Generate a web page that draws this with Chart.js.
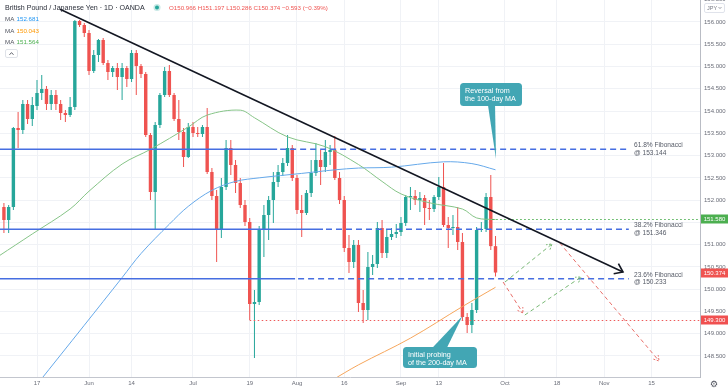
<!DOCTYPE html>
<html>
<head>
<meta charset="utf-8">
<script src="https://cdn.jsdelivr.net/npm/chart.js@4.4.1/dist/chart.umd.min.js"></script>
<style>
html,body{margin:0;padding:0;background:#ffffff;overflow:hidden;}
#wrap{position:relative;width:728px;height:391px;}
canvas{display:block;}
</style>
</head>
<body>
<div id="wrap"><canvas id="chart" width="728" height="391"></canvas></div>
<script>
// ================= DATA =================
// trading-day index of the first candle (0 = 17 May 2021)
const FIRST_DAY = -7;

const opens = [151.845,151.554,151.845,153.620,153.575,154.159,153.822,154.114,154.406,154.495,154.159,154.361,154.159,153.956,153.911,154.091,156.022,155.933,155.753,154.900,155.259,155.596,155.079,154.877,154.967,154.765,154.967,154.720,155.304,155.012,154.832,153.462,152.182,153.687,154.361,154.900,154.361,153.822,153.530,152.968,153.642,153.507,153.485,153.642,152.631,152.092,151.329,152.295,153.170,152.789,152.384,151.890,151.509,149.667,149.712,151.329,151.666,152.003,152.407,152.631,152.834,153.170,152.497,151.778,151.711,152.160,152.609,152.901,152.744,153.081,153.125,152.497,152.003,150.925,150.610,150.992,149.690,149.532,150.498,150.565,151.374,150.812,151.172,151.239,151.284,151.486,152.070,152.092,152.003,152.048,151.823,151.801,152.070,152.295,151.441,151.374,151.396,151.059,149.375,149.196,149.532,151.329,151.351,152.070,150.966];
const highs = [151.935,151.890,153.642,153.979,154.248,154.248,154.316,154.697,154.810,154.563,154.473,154.473,154.248,154.024,154.316,156.045,156.045,155.978,155.820,155.371,155.618,155.641,155.147,155.012,155.079,155.079,155.012,155.371,155.371,155.057,154.877,153.507,153.754,154.406,154.989,155.034,154.406,154.248,153.620,153.732,153.754,153.642,153.687,154.069,152.721,152.227,152.497,153.350,153.350,152.901,152.497,152.003,151.598,149.981,151.419,151.890,152.092,152.631,152.789,152.946,153.462,153.238,152.564,152.115,152.227,152.901,153.283,153.125,153.350,153.238,153.440,152.631,152.092,151.217,151.104,151.104,149.981,150.835,150.767,151.509,151.554,151.329,151.374,151.464,151.621,152.115,152.295,152.227,152.182,152.115,152.003,152.115,152.519,152.834,151.621,151.666,151.845,151.262,149.465,149.690,151.396,151.509,152.160,152.564,151.197];
const lows = [151.262,151.262,151.778,153.170,153.485,153.709,153.664,154.024,154.248,154.024,154.024,154.024,153.799,153.754,153.867,154.024,155.888,155.663,154.810,154.855,155.102,155.034,154.697,154.765,154.473,154.248,154.540,154.653,154.361,154.742,153.417,152.003,151.329,153.620,154.316,154.316,153.777,153.350,152.744,152.946,153.417,153.417,153.417,152.587,152.003,150.610,151.149,152.227,152.564,152.160,151.823,151.419,149.308,148.454,149.645,150.723,151.104,151.486,152.295,152.542,152.766,152.429,151.688,151.172,151.666,152.070,152.542,152.340,152.631,152.789,152.452,151.913,150.835,150.363,150.476,149.487,149.240,149.308,150.318,150.476,150.700,150.700,151.104,151.149,151.194,151.419,151.778,151.890,151.733,151.441,151.554,151.733,152.003,151.396,150.925,151.217,150.880,149.308,149.016,149.016,149.465,151.284,151.284,150.880,150.286];
const closes = [151.554,151.845,153.620,153.575,154.159,153.822,154.136,154.406,154.495,154.159,154.361,154.159,153.956,153.911,154.091,156.022,155.933,155.753,154.900,155.259,155.596,155.079,154.877,154.967,154.765,154.967,154.720,155.304,155.012,154.832,153.462,152.182,153.687,154.361,154.900,154.361,153.822,153.530,152.968,153.642,153.507,153.485,153.642,152.631,152.092,151.329,152.295,153.170,152.789,152.384,151.890,151.509,149.667,149.712,151.329,151.666,152.003,152.407,152.631,152.834,153.170,152.497,151.778,151.711,152.160,152.609,152.901,152.744,153.081,153.125,152.497,152.003,150.925,150.610,150.992,149.690,149.532,150.498,150.565,151.374,150.812,151.172,151.239,151.284,151.486,152.070,152.092,152.003,152.048,151.823,151.801,152.070,152.295,151.441,151.374,151.396,151.059,149.375,149.196,149.532,151.329,151.351,152.070,150.967,150.374];

// moving averages (trading-day index, value)
const ma100Days   = [0, 10, 18, 22, 28, 32, 37, 42, 47, 56, 63, 68, 75, 86, 92, 97];
const ma100Values = [147.86,149.19,150.26,150.80,151.46,151.86,152.22,152.42,152.50,152.60,152.68,152.72,152.74,152.86,152.82,152.681];
const ma200Days   = [62, 68, 79, 90, 97];
const ma200Values = [147.93,148.30,148.90,149.61,150.043];
const ma50Days    = [-8, -1, 7, 11, 18, 24, 32, 36, 43, 46, 53, 61, 68, 73, 77, 83, 90, 93, 97];
const ma50Values  = [150.75,151.24,151.80,152.20,152.81,153.14,153.64,153.91,154.02,153.85,153.42,153.20,152.80,152.42,152.14,151.94,151.80,151.60,151.564];

// axis ticks
const xTickDays   = [0, 11, 20, 33, 45, 55, 65, 77, 85, 99, 110, 120, 130];
const xTickLabels = ['17','Jun','14','Jul','19','Aug','16','Sep','13','Oct','18','Nov','15'];
const yTickValues = [148.5,149,149.5,150,150.5,151,151.5,152,152.5,153,153.5,154,154.5,155,155.5,156,156.5];

// drawings (data units: trading-day index, price)
const trendLine = { from: [4.87, 156.285], to: [123.97, 150.386] };
const fibLevels = [153.144, 151.346, 150.233];
const fibNames  = ['61.8% Fibonacci', '38.2% Fibonacci', '23.6% Fibonacci'];
const fibSolidTo = [50.8, 60.5, 54.6];
const FIB_END = 125.2, FIB_LABEL_AT = 126.3;
const supportLevel = 149.300, supportFrom = 45;
const pivotLevel = 151.580, pivotFrom = 96.3;
const projections = [
  { kind: 'down', from: [98.6, 150.161], to: [102.8, 149.465] },
  { kind: 'up',   from: [99.0, 150.161], to: [108.95, 151.015] },
  { kind: 'up',   from: [103.2, 149.420], to: [115.1, 150.274] },
  { kind: 'down', from: [110.6, 151.037], to: [131.6, 148.387] }
];
const callouts = [
  { lines: ['Reversal from', 'the 100-day MA'], box: [89.5, 154.630, 102.6, 154.114], base: [95.4, 96.9], tip: [97.1, 152.923], below: true },
  { lines: ['Initial probing', 'of the 200-day MA'], box: [77.43, 148.701, 93.08, 148.230], base: [83.6, 86.7], tip: [90.0, 149.398], below: false }
];

const X_MIN = -7.83, X_MAX = 140.26;
const Y_MIN = 148.028, Y_MAX = 156.494;

// ================= STYLE =================
const FONT = '"Liberation Sans", Arial, sans-serif';
const UP = '#26a69a', DOWN = '#ef5350';
const TEAL = '#42a6b4';
const FIB_BLUE = 'rgb(70,110,225)';

const days = opens.map((_, k) => FIRST_DAY + k);
const candleColors = closes.map((c, k) => c >= opens[k] ? UP : DOWN);
const wickData = days.map((d, k) => ({ x: d, y: [lows[k], highs[k]] }));
const bodyData = days.map((d, k) => ({ x: d, y: [Math.min(opens[k], closes[k]), Math.max(opens[k], closes[k])] }));
const toPts = (xs, ys) => xs.map((x, k) => ({ x, y: ys[k] }));
const hiddenTick = v => Math.abs(v - pivotLevel) < 0.1;

function arrowHead(ctx, x0, y0, x1, y1, len, ang) {
  const a = Math.atan2(y1 - y0, x1 - x0);
  ctx.beginPath();
  ctx.moveTo(x1 - len * Math.cos(a - ang), y1 - len * Math.sin(a - ang));
  ctx.lineTo(x1, y1);
  ctx.lineTo(x1 - len * Math.cos(a + ang), y1 - len * Math.sin(a + ang));
  ctx.stroke();
}
function fitFont(ctx, text, width, family) {
  ctx.font = '10px ' + family;
  const w = ctx.measureText(text).width;
  return 10 * width / w;
}
function rrect(ctx, x, y, w, h, r) {
  ctx.beginPath();
  ctx.moveTo(x + r, y);
  ctx.lineTo(x + w - r, y); ctx.arcTo(x + w, y, x + w, y + r, r);
  ctx.lineTo(x + w, y + h - r); ctx.arcTo(x + w, y + h, x + w - r, y + h, r);
  ctx.lineTo(x + r, y + h); ctx.arcTo(x, y + h, x, y + h - r, r);
  ctx.lineTo(x, y + r); ctx.arcTo(x, y, x + r, y, r);
  ctx.closePath();
}

const drawingsPlugin = {
  id: 'drawings',
  afterDatasetsDraw(chart) {
    const { ctx, chartArea: a, scales: { x, y } } = chart;
    const X = v => x.getPixelForValue(v), Y = v => y.getPixelForValue(v);
    ctx.save();
    ctx.beginPath(); ctx.rect(a.left, a.top, a.right - a.left, a.bottom - a.top); ctx.clip();

    // Fibonacci levels
    fibLevels.forEach((lv, k) => {
      const yy = Y(lv);
      ctx.strokeStyle = FIB_BLUE; ctx.lineWidth = 1.5;
      ctx.setLineDash([]);
      ctx.beginPath(); ctx.moveTo(a.left, yy); ctx.lineTo(X(fibSolidTo[k]), yy); ctx.stroke();
      ctx.setLineDash([6, 4]);
      ctx.beginPath(); ctx.moveTo(X(fibSolidTo[k]) + 3, yy); ctx.lineTo(X(FIB_END), yy); ctx.stroke();
      ctx.setLineDash([]);
      ctx.fillStyle = '#555a66';
      ctx.font = '6.6px ' + FONT;
      ctx.textBaseline = 'middle'; ctx.textAlign = 'left';
      ctx.fillText(fibNames[k], X(FIB_LABEL_AT), yy - 4);
      ctx.fillText('@ ' + lv.toFixed(3), X(FIB_LABEL_AT), yy + 3.5);
    });

    // dotted support / pivot lines
    ctx.lineWidth = 1.2;
    ctx.setLineDash([1.5, 2.5]);
    ctx.strokeStyle = '#ee5a5a';
    let yy = Math.round(Y(supportLevel)) + 0.5;
    ctx.beginPath(); ctx.moveTo(X(supportFrom), yy); ctx.lineTo(a.right, yy); ctx.stroke();
    ctx.strokeStyle = '#4caf50';
    yy = Math.round(Y(pivotLevel)) + 0.5;
    ctx.beginPath(); ctx.moveTo(X(pivotFrom), yy); ctx.lineTo(a.right, yy); ctx.stroke();
    ctx.setLineDash([]);

    // projections
    projections.forEach(p => {
      const x0 = X(p.from[0]), y0 = Y(p.from[1]), x1 = X(p.to[0]), y1 = Y(p.to[1]);
      ctx.strokeStyle = p.kind === 'up' ? '#78b874' : '#e8706b';
      ctx.lineWidth = 1;
      ctx.setLineDash([4, 3]);
      ctx.beginPath(); ctx.moveTo(x0, y0); ctx.lineTo(x1, y1); ctx.stroke();
      ctx.setLineDash([2, 1.5]);
      arrowHead(ctx, x0, y0, x1, y1, 6, 0.55);
      ctx.setLineDash([]);
    });

    // trend line
    {
      const x0 = X(trendLine.from[0]), y0 = Y(trendLine.from[1]);
      const x1 = X(trendLine.to[0]), y1 = Y(trendLine.to[1]);
      ctx.strokeStyle = '#131722'; ctx.lineWidth = 1.6;
      ctx.beginPath(); ctx.moveTo(x0, y0); ctx.lineTo(x1, y1); ctx.stroke();
      arrowHead(ctx, x0, y0, x1, y1, 9.5, 0.63);
    }

    // callouts
    callouts.forEach(c => {
      const x1 = X(c.box[0]), y1 = Y(c.box[1]), x2 = X(c.box[2]), y2 = Y(c.box[3]);
      const by = c.below ? y2 - 1 : y1 + 1;
      ctx.fillStyle = TEAL;
      rrect(ctx, x1, y1, x2 - x1, y2 - y1, 3.5); ctx.fill();
      ctx.beginPath();
      ctx.moveTo(X(c.base[0]), by); ctx.lineTo(X(c.tip[0]), Y(c.tip[1])); ctx.lineTo(X(c.base[1]), by);
      ctx.closePath(); ctx.fill();
      ctx.fillStyle = '#ffffff';
      ctx.font = '7.2px ' + FONT;
      ctx.textBaseline = 'middle'; ctx.textAlign = 'left';
      c.lines.forEach((t, j) => ctx.fillText(t, x1 + 5, y1 + 7.8 + j * 7.8));
    });
    ctx.restore();
  },
  afterDraw(chart) {
    const { ctx, chartArea: a, scales: { y } } = chart;
    const Y = v => y.getPixelForValue(v);
    ctx.save();
    ctx.textBaseline = 'middle'; ctx.textAlign = 'left';

    // header
    const title = 'British Pound / Japanese Yen · 1D · OANDA';
    ctx.fillStyle = '#2a2e39';
    ctx.font = fitFont(ctx, title, 140, FONT) + 'px ' + FONT;
    ctx.fillText(title, 5, 8);
    ctx.fillStyle = 'rgba(38,166,154,0.25)';
    ctx.beginPath(); ctx.arc(157, 7.5, 3.5, 0, Math.PI * 2); ctx.fill();
    ctx.fillStyle = UP;
    ctx.beginPath(); ctx.arc(157, 7.5, 2, 0, Math.PI * 2); ctx.fill();
    const n = closes.length - 1;
    const chg = closes[n] - closes[n - 1];
    const pct = chg / closes[n - 1] * 100;
    const minus = v => (v < 0 ? '\u2212' : '+') + Math.abs(v).toFixed(3);
    const ohlc = 'O' + opens[n].toFixed(3) + ' H' + highs[n].toFixed(3) + ' L' + lows[n].toFixed(3) +
                 ' C' + closes[n].toFixed(3) + ' ' + minus(chg) + ' (' + (pct < 0 ? '\u2212' : '+') + Math.abs(pct).toFixed(2) + '%)';
    ctx.fillStyle = '#ef5350';
    ctx.font = fitFont(ctx, ohlc, 159, FONT) + 'px ' + FONT;
    ctx.fillText(ohlc, 169, 8);

    // MA legend
    const legend = [[ma100Values, '#2196f3'], [ma200Values, '#ff9800'], [ma50Values, '#4caf50']];
    ctx.font = '6.2px ' + FONT;
    legend.forEach((l, k) => {
      const ly = 19.5 + k * 11.3;
      ctx.fillStyle = '#50535e';
      ctx.fillText('MA', 5, ly);
      ctx.fillStyle = l[1];
      ctx.fillText(l[0][l[0].length - 1].toFixed(3), 16.5, ly);
    });
    ctx.strokeStyle = '#dfe2e8'; ctx.lineWidth = 1;
    rrect(ctx, 5.5, 49.5, 12, 8, 1.5); ctx.fillStyle = '#ffffff'; ctx.fill(); ctx.stroke();
    ctx.strokeStyle = '#50535e'; ctx.lineWidth = 0.9;
    ctx.beginPath(); ctx.moveTo(9.5, 54.8); ctx.lineTo(11.5, 52.6); ctx.lineTo(13.5, 54.8); ctx.stroke();

    // right axis price labels
    const boxes = [[pivotLevel, '#4caf50'], [closes[n], '#ef5350'], [supportLevel, '#f05050']];
    boxes.forEach(b => {
      const by = Y(b[0]);
      ctx.fillStyle = b[1];
      ctx.fillRect(a.right + 1, Math.round(by) - 4.5, 27, 9);
      ctx.fillStyle = '#ffffff';
      ctx.font = '6px ' + FONT;
      ctx.textAlign = 'center';
      ctx.fillText(b[0].toFixed(3), a.right + 14.5, Math.round(by));
    });

    // currency selector
    ctx.textAlign = 'left';
    ctx.strokeStyle = '#e0e3eb'; ctx.lineWidth = 1;
    rrect(ctx, 704.5, 3.5, 20, 9, 1.5); ctx.fillStyle = '#ffffff'; ctx.fill(); ctx.stroke();
    ctx.fillStyle = '#787b86'; ctx.font = '5.5px ' + FONT;
    ctx.fillText('JPY', 707, 8.2);
    ctx.strokeStyle = '#787b86'; ctx.lineWidth = 0.7;
    ctx.beginPath(); ctx.moveTo(718.5, 7); ctx.lineTo(720, 8.6); ctx.lineTo(721.5, 7); ctx.stroke();

    // settings gear
    ctx.fillStyle = '#50535e';
    ctx.font = '9px "DejaVu Sans", sans-serif';
    ctx.textAlign = 'center';
    ctx.fillText('\u2699', 714, 384.5);
    ctx.restore();
  }
};

new Chart(document.getElementById('chart'), {
  type: 'bar',
  data: {
    datasets: [
      { type: 'line', data: toPts(ma50Days, ma50Values), borderColor: '#86c487', borderWidth: 1, pointRadius: 0, tension: 0.35, order: 1 },
      { type: 'line', data: toPts(ma100Days, ma100Values), borderColor: '#66a9ea', borderWidth: 1, pointRadius: 0, tension: 0.35, order: 1 },
      { type: 'line', data: toPts(ma200Days, ma200Values), borderColor: '#f6a65c', borderWidth: 1, pointRadius: 0, tension: 0.35, order: 1 },
      { type: 'bar', data: bodyData, backgroundColor: candleColors, grouped: false, maxBarThickness: 3.6, minBarLength: 1, inflateAmount: 0, borderWidth: 0, order: 2 },
      { type: 'bar', data: wickData, backgroundColor: candleColors, grouped: false, maxBarThickness: 1, inflateAmount: 0, borderWidth: 0, order: 3 }
    ]
  },
  options: {
    responsive: false,
    animation: false,
    devicePixelRatio: 1,
    layout: { padding: 0 },
    events: [],
    plugins: { legend: { display: false }, tooltip: { enabled: false }, title: { display: false } },
    scales: {
      x: {
        type: 'linear', min: X_MIN, max: X_MAX, bounds: 'data', offset: false,
        grid: { color: '#f0f2f6', drawTicks: false, offset: false },
        border: { color: '#c3c6ce' },
        afterBuildTicks: s => { s.ticks = xTickDays.map(v => ({ value: v })); },
        afterFit: s => { s.height = 14; s.paddingLeft = 0; s.paddingRight = 0; },
        ticks: { autoSkip: false, maxRotation: 0, padding: 3, color: '#6a6d78', font: { size: 6, family: FONT },
                 callback: (v, i) => xTickLabels[i] }
      },
      y: {
        type: 'linear', position: 'right', min: Y_MIN, max: Y_MAX, bounds: 'data', beginAtZero: false,
        grid: { color: '#f0f2f6', drawTicks: false },
        border: { color: '#b9bcc4' },
        afterBuildTicks: s => { s.ticks = yTickValues.map(v => ({ value: v })); },
        afterFit: s => { s.width = 28; s.paddingTop = 0; s.paddingBottom = 0; },
        ticks: { padding: 4, color: '#6a6d78', font: { size: 6, family: FONT },
                 callback: v => hiddenTick(v) ? '' : Number(v).toFixed(3) }
      }
    }
  },
  plugins: [drawingsPlugin]
});
</script>
</body>
</html>
